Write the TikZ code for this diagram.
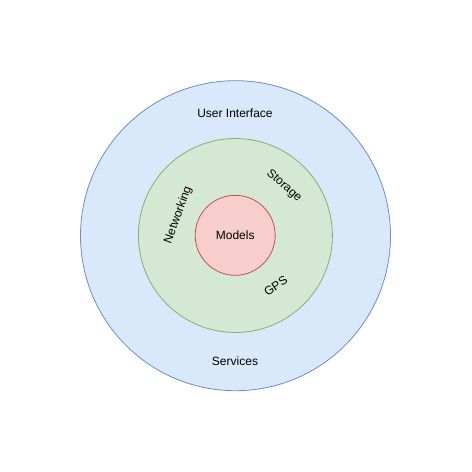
\documentclass[tikz,border=0pt]{standalone}
\usepackage{fontspec}
\setmainfont{Liberation Sans}
\usepackage{xcolor}

\definecolor{uiFill}{HTML}{DAE8FC}
\definecolor{uiLine}{HTML}{6C8EBF}
\definecolor{coreFill}{HTML}{D5E8D4}
\definecolor{coreLine}{HTML}{82B366}
\definecolor{modelFill}{HTML}{F8CECC}
\definecolor{modelLine}{HTML}{B85450}

\tikzset{
    ring/.style={circle, draw, line width=0.8pt, inner sep=0pt},
    label text/.style={inner sep=1pt}
}

\begin{document}
\begin{tikzpicture}[x=1pt, y=-1pt, font=\fontsize{12}{14}\selectfont]

    \useasboundingbox (0, 0) rectangle (472, 472);

    % Three rings, outer to inner
    \node[ring, draw=uiLine, fill=uiFill, minimum size=310pt] (ui) at (235.5, 235.7) {};
    \node[ring, draw=coreLine, fill=coreFill, minimum size=194pt] (core) at (235.4, 235.5) {};
    \node[ring, draw=modelLine, fill=modelFill, minimum size=80pt] (models) at (235.2, 235.3) {Models};

    % Labels in the outer ring
    \node[label text] (userinterface) at (235, 113.5) {User Interface};
    \node[label text] (services) at (235, 361.5) {Services};

    % Labels in the middle ring
    \node[label text, rotate=70] (networking) at (178.3, 215) {Networking};
    \node[label text, rotate=-41] (storage) at (284, 186) {Storage};
    \node[label text, rotate=34] (gps) at (275.7, 286) {GPS};

\end{tikzpicture}
\end{document}
